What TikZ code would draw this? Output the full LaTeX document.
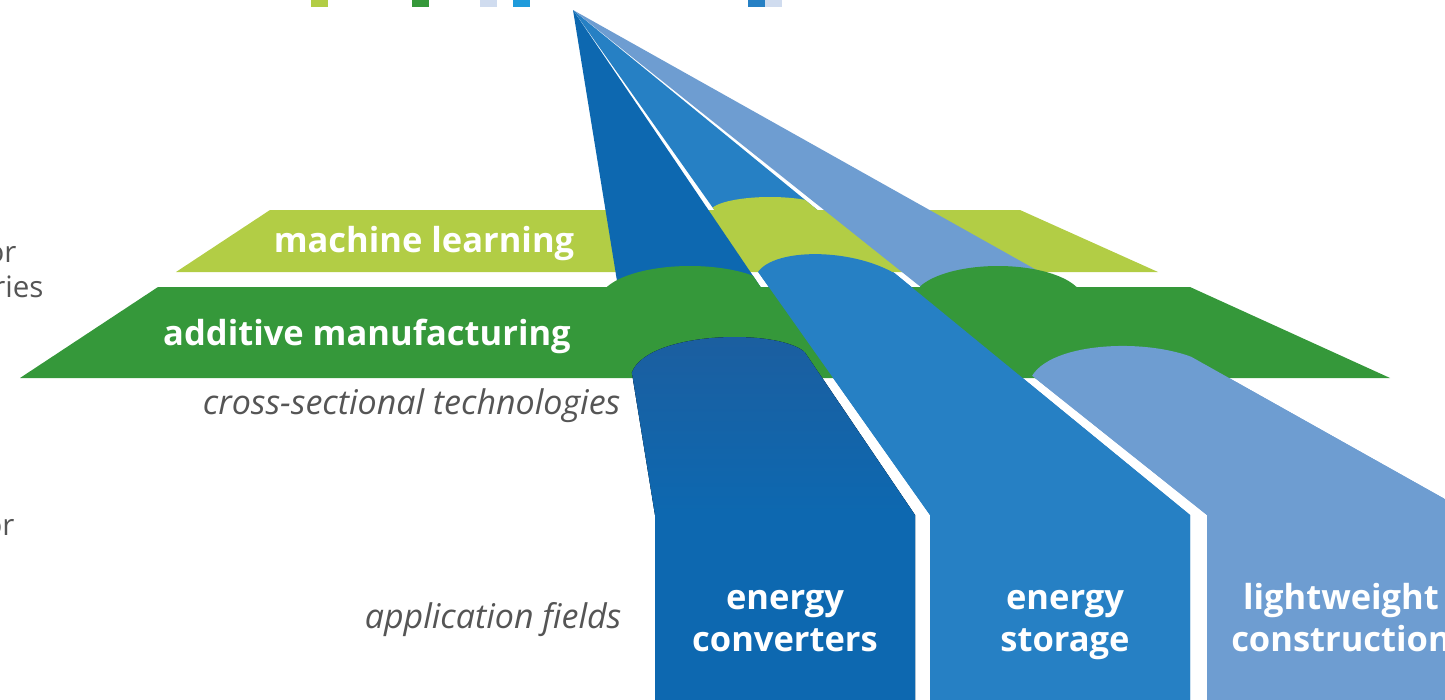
\documentclass[tikz,border=0pt]{standalone}
\usepackage{fontspec}
\setmainfont{Open Sans}
\usepackage{tikz}
\definecolor{mlgreen}{HTML}{B2CD45}
\definecolor{amgreen}{HTML}{35983A}
\definecolor{beamone}{HTML}{0D68B0}
\definecolor{beamonetop}{HTML}{1C5E9F}
\definecolor{beamtwo}{HTML}{2680C4}
\definecolor{beamthree}{HTML}{6E9DD1}
\definecolor{paleblue}{HTML}{D0DCEF}
\definecolor{cyanblue}{HTML}{1F9BDB}
\definecolor{textgrey}{HTML}{555555}

\begin{document}
\begin{tikzpicture}[x=1pt,y=-1pt,
	bandtext/.style={text=white,font=\fontsize{34.5}{42}\selectfont\bfseries,anchor=base},
	fieldtext/.style={bandtext,align=center},
	sidetext/.style={text=textgrey,font=\fontsize{34}{40}\selectfont\itshape,anchor=base east},
	cuttext/.style={text=textgrey,font=\fontsize{29.5}{35}\selectfont,anchor=base east}]

	\useasboundingbox (0,0) rectangle (1445,699);
	\clip (0,0) rectangle (1445,699);

	\coordinate (apex) at (573,10);
	\coordinate (b1l) at (655,515);
	\coordinate (b1r) at (915,515);
	\coordinate (b2l) at (930,515);
	\coordinate (b2r) at (1190,515);
	\coordinate (b3l) at (1207,515);
	\coordinate (b3r) at (1500,530);

	% legend squares, cut at the top
	\fill[mlgreen] (311,0) rectangle (328,7);
	\fill[amgreen] (412,0) rectangle (429,7);
	\fill[paleblue] (480,0) rectangle (497,7);
	\fill[cyanblue] (513,0) rectangle (530,7);
	\fill[beamtwo] (748,0) rectangle (765,7);
	\fill[paleblue] (765,0) rectangle (782,7);

	\fill[beamtwo] (apex) -- (b2l) -- (930,700) -- (1190,700) -- (b2r) -- cycle;

	\fill[mlgreen] (270,210) -- (1020,210) -- (1158,272) -- (176,272) -- cycle;
	\begin{scope}
		\clip (apex) -- (b2l) -- (930,700) -- (1190,700) -- (b2r) -- cycle;
		\fill[mlgreen] (770,212) ellipse [x radius=60pt, y radius=15pt];
	\end{scope}

	\fill[beamone] (apex) -- (b1l) -- (655,700) -- (915,700) -- (b1r) -- cycle;
	\fill[beamthree] (apex) -- (b3l) -- (1207,700) -- (1500,700) -- (b3r) -- cycle;

	\fill[amgreen] (158,287) -- (1190,287) -- (1390,378) -- (20,378) -- cycle;
	\begin{scope}
		\clip (573,0) -- (apex) -- (b1r) -- (0,515) -- (0,0) -- cycle;
		\fill[amgreen] (690,300) ellipse [x radius=90pt, y radius=34pt];
	\end{scope}
	\begin{scope}
		\clip (573,0) -- (apex) -- (b3l) -- (1500,515) -- (1500,0) -- cycle;
		\fill[amgreen] (998,300) ellipse [x radius=85pt, y radius=34pt];
	\end{scope}

	\begin{scope}
		\clip (apex) -- (b2l) -- (930,700) -- (1190,700) -- (b2r) -- cycle;
		\fill[beamtwo] (0,272) -- (758,272) .. controls (775,248) and (850,248) .. (894,273)
			-- (1500,273) -- (1500,700) -- (0,700) -- cycle;
	\end{scope}
	\begin{scope}
		\clip (apex) -- (b1l) -- (655,700) -- (915,700) -- (b1r) -- cycle;
		\fill[top color=beamonetop,bottom color=beamone,middle color=beamone] (0,372) -- (632,372)
			.. controls (650,328) and (798,328) .. (809,358)
			-- (1500,358) -- (1500,700) -- (0,700) -- cycle;
	\end{scope}
	\begin{scope}
		\clip (apex) -- (b3l) -- (1207,700) -- (1500,700) -- (b3r) -- cycle;
		\fill[beamthree] (0,376) -- (1032,376) .. controls (1055,337) and (1177,337) .. (1215,370)
			-- (1500,370) -- (1500,700) -- (0,700) -- cycle;
	\end{scope}

	\node[bandtext] (ml) at (424,252) {machine learning};
	\node[bandtext] (am) at (367,345) {additive manufacturing};
	\node[sidetext] (xsec) at (624,414) {cross-sectional technologies};
	\node[sidetext] (appl) at (625,628) {application fields};
	\node[fieldtext] (conv) at (785,651) {energy\\converters};
	\node[fieldtext] (stor) at (1065,651) {energy\\storage};
	\node[fieldtext] (light) at (1341,651) {lightweight\\construction};
	\node[cuttext] (cuta) at (20,262) {or};
	\node[cuttext] (cutb) at (47,297) {ries};
	\node[cuttext] (cutc) at (18,535) {or};
\end{tikzpicture}
\end{document}
